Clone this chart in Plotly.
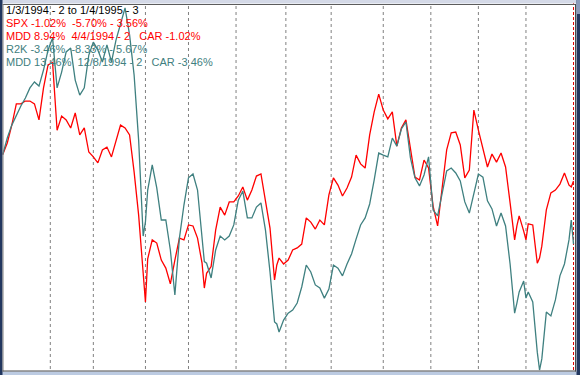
import plotly.graph_objects as go

# ---------------- data (percent change from 1/3/1994, by trading-day index) ----------------
DAY = [0, 2, 4, 6, 8, 10, 12, 14, 16, 18, 20, 22, 24, 26, 28, 30, 32, 34, 36, 38,
       40, 42, 44, 46, 48, 50, 52, 54, 56, 58, 60, 62, 63, 64, 66, 68, 70, 72, 74, 76,
       78, 80, 82, 84, 86, 88, 89, 90, 92, 94, 96, 98, 100, 102, 104, 106, 108, 110, 112, 114,
       116, 118, 120, 121, 122, 124, 126, 128, 130, 132, 134, 136, 138, 140, 142, 144, 146, 148, 150, 152,
       154, 156, 158, 160, 162, 164, 166, 168, 170, 172, 174, 176, 178, 180, 182, 184, 186, 188, 190, 192,
       194, 196, 198, 200, 202, 204, 206, 208, 210, 212, 214, 216, 218, 220, 222, 224, 226, 227, 228, 230,
       231, 232, 234, 236, 237, 238, 240, 242, 244, 246, 248, 250, 251, 252]

SPX_PCT = [0.00, 0.45, 1.14, 1.96, 1.96, 2.07, 2.07, 1.96, 1.34, 2.58, 3.47, 3.56, 0.94, 1.49, 1.34, 1.03, 1.61, 0.76, 1.03, 0.10,
           -0.09, -0.32, 0.18, 0.29, -0.09, 0.49, 1.14, 1.03, 0.76, -0.67, -2.34, -4.58, -5.70, -4.03, -3.30, -3.42, -4.08, -4.39, -5.00, -4.08,
           -3.23, -3.30, -2.72, -2.76, -3.23, -4.20, -5.16, -4.59, -4.33, -2.92, -2.03, -2.34, -1.83, -1.83, -1.60, -1.25, -1.76, -1.37, -0.83, -0.75,
           -1.83, -2.84, -4.85, -4.27, -4.00, -4.23, -4.08, -3.69, -3.61, -3.46, -2.45, -2.61, -2.88, -2.53, -2.72, -1.56, -0.90, -1.18, -1.60, -1.29,
           -0.87, -0.02, -0.36, -0.52, 0.76, 1.65, 2.34, 1.72, 1.38, 1.65, 0.33, 1.03, 1.34, 0.26, -0.87, -0.98, -0.21, -0.52, -1.99, -2.76,
           -1.37, 0.18, 0.84, 0.87, 0.37, -0.90, -0.60, 1.72, 0.95, 0.29, -0.48, 0.02, -0.29, 0.06, -0.48, -1.87, -3.30, -2.76, -2.37, -2.96,
           -3.30, -2.68, -2.72, -4.20, -4.00, -3.54, -2.14, -1.48, -1.37, -1.14, -0.71, -1.18, -1.25, -1.02]

R2K_PCT = [0.00, 0.64, 1.14, 1.53, 1.88, 2.19, 2.58, 2.81, 2.65, 3.27, 4.04, 4.51, 2.58, 3.19, 3.97, 4.12, 2.88, 2.30, 2.58, 3.85,
           4.35, 4.04, 3.58, 4.24, 3.58, 4.43, 5.01, 5.67, 4.63, 3.08, 0.56, -3.15, -2.60, -1.37, -0.40, -1.29, -2.53, -2.53, -3.69, -5.43,
           -3.23, -1.95, -0.90, -0.75, -1.37, -3.17, -4.14, -4.20, -4.77, -3.69, -3.15, -3.30, -3.15, -2.72, -1.76, -1.41, -2.45, -2.45, -2.03, -1.87,
           -2.92, -4.54, -6.47, -6.55, -6.86, -6.40, -6.13, -6.01, -5.74, -5.12, -4.27, -4.54, -5.04, -5.16, -5.55, -5.20, -4.27, -4.39, -4.69, -4.23,
           -3.84, -3.27, -2.72, -2.45, -1.91, -0.98, 0.06, -0.02, -0.09, 0.64, 0.33, 0.99, 1.26, -0.13, -0.90, -1.21, -0.79, -0.09, -2.14, -2.37,
           -1.56, -0.63, -0.52, -0.71, -1.02, -1.83, -2.26, -1.45, -0.75, -0.87, -1.79, -2.10, -2.76, -2.26, -2.76, -4.23, -6.13, -5.74, -5.31, -4.89,
           -5.55, -5.31, -5.70, -7.64, -8.33, -7.90, -6.09, -6.24, -5.62, -4.69, -4.23, -3.30, -2.53, -3.46]

MONTH_START_DAY = [21, 40, 63, 82, 103, 125, 145, 168, 189, 210, 231]
LAST_DAY = 252

SPX_COLOR = "#ff0000"
R2K_COLOR = "#3f8080"

TEXT_LINES = [
    ("1/3/1994 - 2 to 1/4/1995 - 3", "#000000"),
    ("SPX -1.02%  -5.70% - 3.56%", SPX_COLOR),
    ("MDD 8.94%  4/4/1994 - 2   CAR -1.02%", SPX_COLOR),
    ("R2K -3.46%  -8.33% - 5.67%", R2K_COLOR),
    ("MDD 13.46%  12/8/1994 - 2   CAR -3.46%", R2K_COLOR),
]

# ---------------- figure ----------------
W, H = 580, 375


def fx(px):
    return px / W


def fy(py):
    return 1 - py / H


fig = go.Figure()
fig.add_trace(go.Scatter(x=DAY, y=SPX_PCT, mode="lines", name="SPX",
                         line=dict(color=SPX_COLOR, width=1.3), hoverinfo="skip"))
fig.add_trace(go.Scatter(x=DAY, y=R2K_PCT, mode="lines", name="R2K",
                         line=dict(color=R2K_COLOR, width=1.3), hoverinfo="skip"))

shapes = []
for d in MONTH_START_DAY:
    shapes.append(dict(type="line", xref="x", yref="paper", x0=d, x1=d, y0=0, y1=1,
                       line=dict(color="#808080", width=1, dash="3px,3px"), layer="below"))
shapes.append(dict(type="line", xref="x", yref="paper", x0=LAST_DAY, x1=LAST_DAY, y0=0, y1=1,
                   line=dict(color="#e00000", width=1, dash="3px,2px"), layer="below"))

# window frame
frame = [
    dict(type="rect", x0=fx(0), x1=fx(W), y0=fy(0), y1=fy(3.5), fillcolor="#d4d9e7"),
    dict(type="rect", x0=fx(0), x1=fx(W), y0=fy(371.5), y1=fy(H), fillcolor="#bccbe2"),
    dict(type="rect", x0=fx(0), x1=fx(2.5), y0=fy(0), y1=fy(H), fillcolor="#22375f"),
    dict(type="rect", x0=fx(576.5), x1=fx(W), y0=fy(0), y1=fy(H), fillcolor="#22375f"),
    dict(type="rect", x0=fx(576.5), x1=fx(W), y0=fy(0), y1=fy(14), fillcolor="#8a9aba"),
]
for f in frame:
    f.update(xref="paper", yref="paper", line=dict(width=0), layer="above")
    shapes.append(f)
for (x0, y0, x1, y1, c) in [(2.5, 4.5, 576, 4.5, "#5c5c5c"), (3, 4, 3, 371.5, "#808080"),
                            (575.5, 4, 575.5, 371.5, "#4a4a4a"), (2.5, 371, 576, 371, "#4a4a4a")]:
    shapes.append(dict(type="line", xref="paper", yref="paper", x0=fx(x0), x1=fx(x1),
                       y0=fy(y0), y1=fy(y1), line=dict(color=c, width=1), layer="above"))

annotations = []
for k, (txt, col) in enumerate(TEXT_LINES):
    top = 2.5 + 13.1 * k
    annotations.append(dict(text=txt, xref="paper", yref="paper", x=fx(5), y=fy(top),
                            xanchor="left", yanchor="top", showarrow=False, borderpad=0,
                            font=dict(family="Liberation Sans, Arial, sans-serif", size=11, color=col)))

fig.update_layout(
    width=W, height=H, autosize=False,
    margin=dict(l=0, r=0, t=0, b=0, pad=0),
    paper_bgcolor="#ffffff", plot_bgcolor="#ffffff",
    showlegend=False,
    xaxis=dict(visible=False, range=[-1.2097, 254.86], fixedrange=True),
    yaxis=dict(visible=False, range=[-8.523, 5.978], fixedrange=True),
    shapes=shapes, annotations=annotations,
)

fig.write_html("out.html", config={"displayModeBar": False},
               post_script="document.body.style.margin='0';document.body.style.overflow='hidden';")
